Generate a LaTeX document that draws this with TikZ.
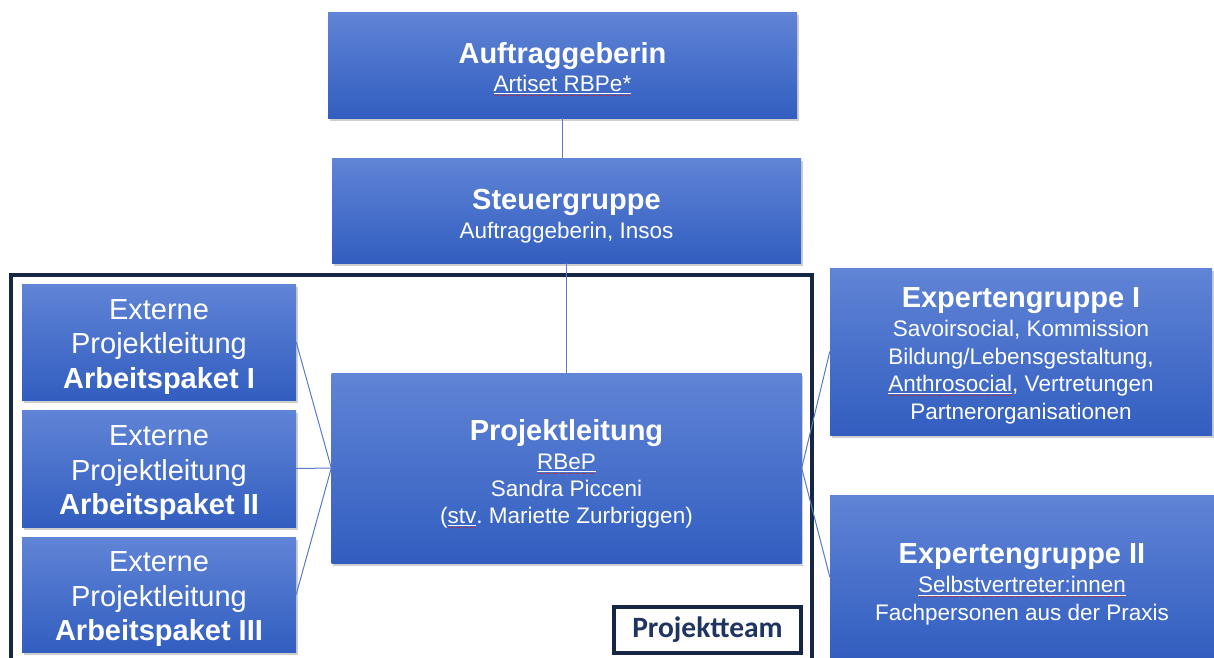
\documentclass[tikz,border=0pt]{standalone}
\usepackage{fontspec}
\setmainfont{Liberation Sans}
\newfontfamily\labelfont{Carlito}
\newfontfamily\wavefont{DejaVu Sans}
\usetikzlibrary{shadows}

\definecolor{boxtop}{RGB}{96,132,214}
\definecolor{boxbot}{RGB}{50,94,192}
\definecolor{linkblue}{RGB}{88,122,200}
\definecolor{navy}{RGB}{24,38,70}
\definecolor{labelnavy}{RGB}{31,52,96}
\definecolor{spellred}{RGB}{220,30,30}

% white underline with a red spell-check wave below it
\newcommand\ulspell[1]{\setbox0\hbox{#1}%
  \rlap{\color{white}\vrule width\wd0 height -1.6pt depth 2.7pt}%
  \rlap{\color{spellred}\lower7pt\hbox to\wd0{\wavefont\fontsize{8}{8}\selectfont\xleaders\hbox{\char"007E}\hfill}}%
  \box0}
% invisible strut that lowers a text block
\newcommand\lift[1]{\rule{0pt}{#1}}

\newcommand\ttlfont{\fontsize{29}{29}\selectfont\bfseries}

\tikzset{
  bluebox/.style={rectangle, inner sep=0pt, draw=none,
    top color=boxtop, bottom color=boxbot, text=white, align=center,
    drop shadow={shadow xshift=1.5pt, shadow yshift=-3pt, opacity=0.35, fill=black!55}},
  subtext/.style={font=\fontsize{22.5}{28}\selectfont},
  bigtext/.style={font=\fontsize{29}{34.5}\selectfont},
  link/.style={draw=linkblue, line width=1pt},
  teamframe/.style={draw=navy, line width=4pt, inner sep=0pt},
  teamlabel/.style={draw=navy, line width=3.5pt, inner sep=0pt, text=labelnavy,
    font=\labelfont\bfseries\fontsize{29.5}{29.5}\selectfont}
}

\begin{document}
\begin{tikzpicture}[x=1pt, y=-1pt]
\useasboundingbox (0,0) rectangle (1214,657);
\fill[white] (0,0) rectangle (1214,657);

% project team frame
\node[teamframe, minimum width=801pt, minimum height=400pt] (frame) at (411.5,475) {};

% boxes
\node[bluebox, subtext, minimum width=469pt, minimum height=106pt] (auf) at (562.5,65)
  {\lift{31pt}{\ttlfont Auftraggeberin}\\ \ulspell{Artiset RBPe*}};
\node[bluebox, subtext, minimum width=469pt, minimum height=105pt] (steu) at (566.5,210.5)
  {\lift{32pt}{\ttlfont Steuergruppe}\\[1pt] Auftraggeberin, Insos};

\node[bluebox, bigtext, minimum width=274pt, minimum height=116pt] (el1) at (159,342)
  {\lift{29pt}Externe\\ Projektleitung\\ \textbf{Arbeitspaket I}};
\node[bluebox, bigtext, minimum width=274pt, minimum height=117pt] (el2) at (159,468.5)
  {\lift{29pt}Externe\\ Projektleitung\\ \textbf{Arbeitspaket II}};
\node[bluebox, bigtext, minimum width=274pt, minimum height=115pt] (el3) at (159,594.5)
  {\lift{29pt}Externe\\ Projektleitung\\ \textbf{Arbeitspaket III}};

\node[bluebox, font=\fontsize{22.5}{27}\selectfont, minimum width=470pt, minimum height=190pt] (pl) at (566.5,468)
  {\lift{35pt}{\ttlfont Projektleitung}\\[2pt] \ulspell{RBeP}\\ Sandra Picceni\\ (\ulspell{stv}.\ Mariette Zurbriggen)};

\node[bluebox, font=\fontsize{22.5}{27.5}\selectfont, minimum width=382pt, minimum height=167pt] (exp1) at (1021,351.5)
  {\lift{28pt}{\ttlfont Expertengruppe I}\\[2pt] Savoirsocial, Kommission\\ Bildung/Lebensgestaltung,\\ \ulspell{Anthrosocial}, Vertretungen\\ Partnerorganisationen};
\node[bluebox, font=\fontsize{22.5}{27.5}\selectfont, minimum width=384pt, minimum height=164pt] (exp2) at (1022,577)
  {\lift{35pt}{\ttlfont Expertengruppe II}\\[1.5pt] \ulspell{Selbstvertreter:innen}\\ Fachpersonen aus der Praxis};

% connectors
\draw[link] (auf.south) -- (auf.south |- steu.north);
\draw[link] (steu.south) -- (steu.south |- pl.north);
\draw[link] (el1.east) -- (pl.west);
\draw[link] (el2.east) -- (pl.west);
\draw[link] (el3.east) -- (pl.west);
\draw[link] (pl.east) -- (exp1.west);
\draw[link] (pl.east) -- (exp2.west);

% label
\node[teamlabel, minimum width=187pt, minimum height=46pt] (lbl) at (707.5,630) {Projektteam};
\end{tikzpicture}
\end{document}
